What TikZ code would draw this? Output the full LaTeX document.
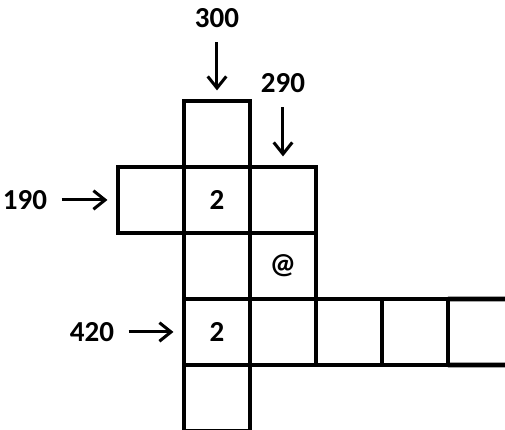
\documentclass[tikz,border=0pt]{standalone}
\usepackage{fontspec}
\setmainfont{Carlito}
\usetikzlibrary{arrows.meta}
\begin{document}
\begin{tikzpicture}[x=1cm,y=1cm,
 cell/.style={draw,line width=2pt,minimum size=1cm,inner sep=0pt,outer sep=0pt,font=\bfseries\fontsize{12.5}{14}\selectfont},
 lab/.style={inner sep=1pt,font=\bfseries\fontsize{12.5}{14}\selectfont},
 arr/.style={line width=1.3pt,shorten <=.18cm,shorten >=.16cm,-{Straight Barb[length=5pt,width=8pt]}}]
\useasboundingbox(-1.788,1.530) rectangle (5.864,-4.985);
\foreach \c/\r/\t in {1/0/,0/1/,1/1/2,2/1/,1/2/,2/2/@,1/3/2,2/3/,3/3/,4/3/,1/4/}
 \node[cell](c\c\r) at(\c+.5,-\r-.5){\t};
\coordinate(e1) at(6,-3);\coordinate(e2) at(6,-4);
\draw[line width=2pt](c43.north east)--(e1) (c43.south east)--(e2);
\node[lab](l300) at(1.5,1.258){300};\node[lab](l290) at(2.5,.273){290};
\node[lab](l190) at(-1.409,-1.5){190};\node[lab](l420) at(-.394,-3.5){420};
\draw[arr](l300)--(c10);\draw[arr](l290)--(c21);\draw[arr](l190)--(c01);\draw[arr](l420)--(c13);
\end{tikzpicture}
\end{document}
